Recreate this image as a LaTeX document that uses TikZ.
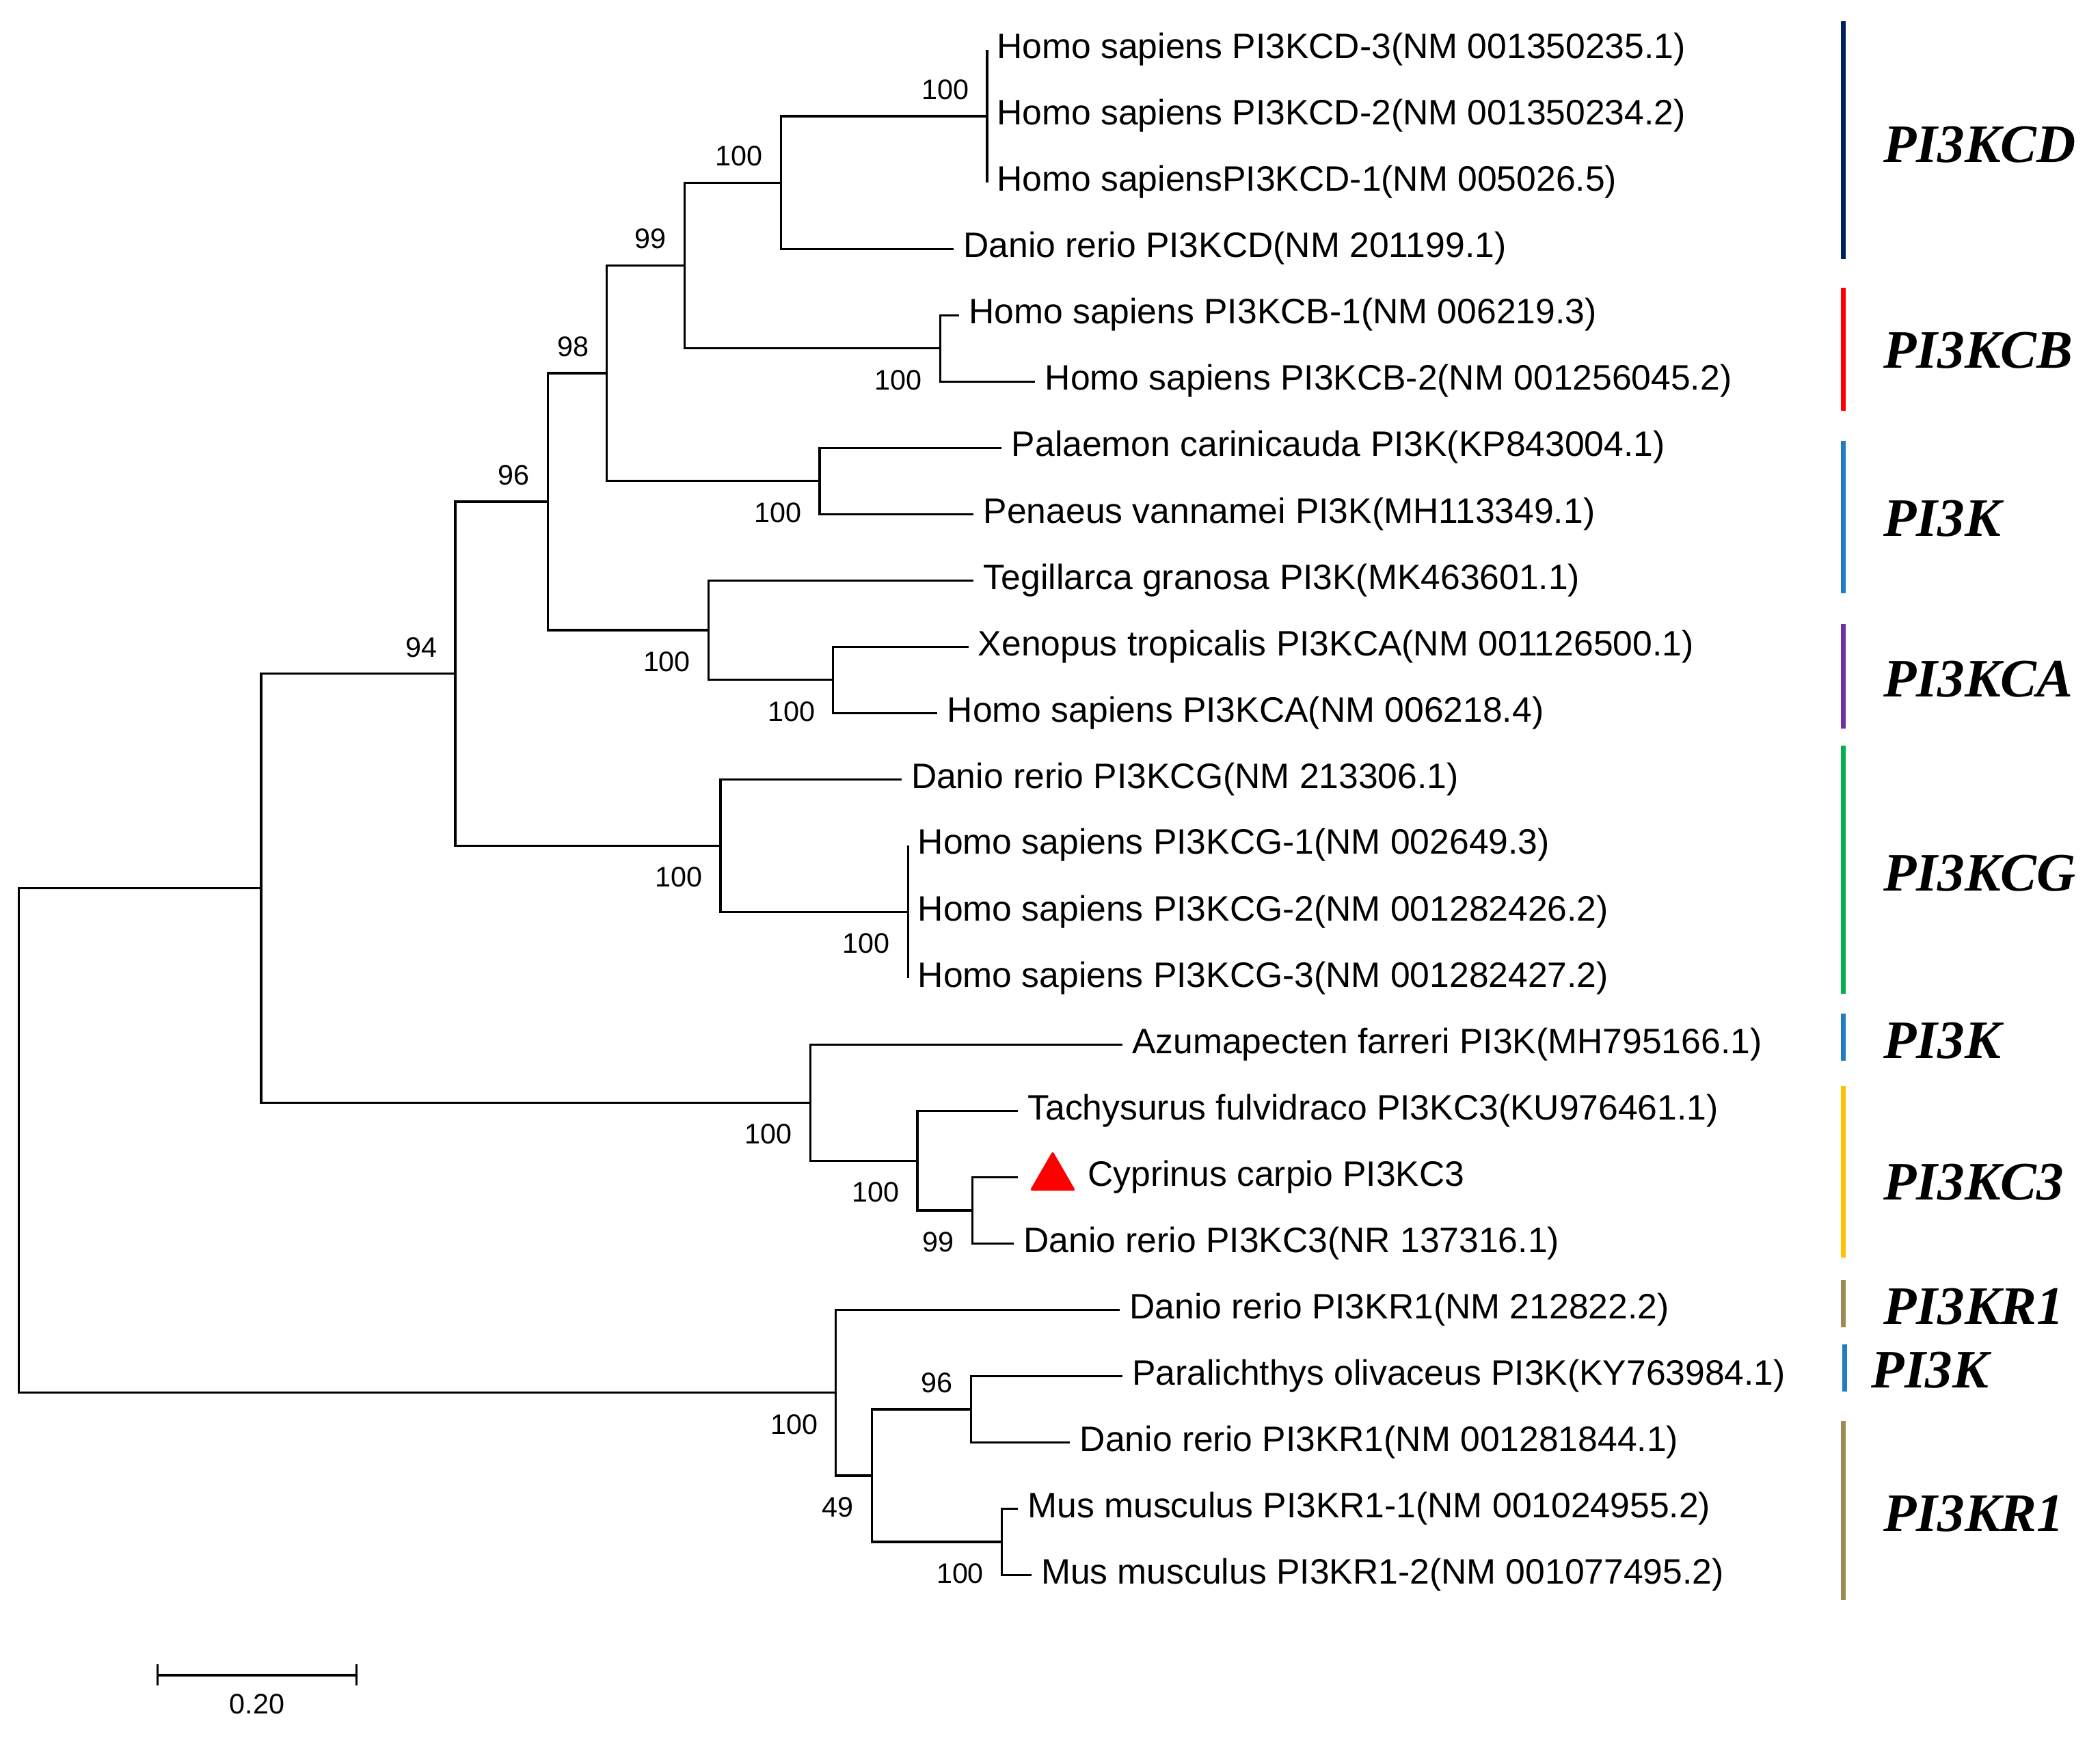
\documentclass[tikz,border=0pt]{standalone}
\usepackage{fontspec}
\setmainfont{Liberation Sans}
\newfontfamily\cladefont{Liberation Serif}
\usepackage{tikz}
\usetikzlibrary{positioning, arrows.meta, shapes.geometric}

\definecolor{pinavy}{RGB}{0,32,96}
\definecolor{pired}{RGB}{255,0,0}
\definecolor{piblue}{RGB}{30,126,193}
\definecolor{pipurple}{RGB}{112,48,160}
\definecolor{pigreen}{RGB}{0,176,80}
\definecolor{pigold}{RGB}{255,192,0}
\definecolor{piolive}{RGB}{156,139,82}

\begin{document}
\begin{tikzpicture}[
        x=0.02cm, y=-0.02cm,
        branch/.style={line width=0.95pt},
        leaf/.style={anchor=west, inner xsep=4pt, inner ysep=0pt, text height=10.8pt, text depth=3.4pt, font=\fontsize{15}{15}\selectfont},
        bootup/.style={anchor=south east, inner sep=0pt, xshift=-7.5pt, yshift=6.8pt, font=\fontsize{12}{12}\selectfont},
        bootdn/.style={anchor=north east, inner sep=0pt, xshift=-7.5pt, yshift=-9pt, font=\fontsize{12}{12}\selectfont},
        clade/.style={anchor=west, inner sep=0pt, text height=15.2pt, text depth=0pt, font=\cladefont\bfseries\itshape\fontsize{23}{23}\selectfont},
        cladebar/.style={line width=2pt, #1},
        ownseq/.style={regular polygon, regular polygon sides=3, fill=red, inner sep=0pt, minimum size=22.5pt, rounded corners=1pt}
    ]
    \path[fill=white] (0,0) rectangle (1568,1306);

    \node[leaf] (hCDiii) at (737,37.3) {Homo sapiens PI3KCD-3(NM 001350235.1)};
    \node[leaf] (hCDii) at (737,86.8) {Homo sapiens PI3KCD-2(NM 001350234.2)};
    \node[leaf] (hCDi) at (737,136.3) {Homo sapiensPI3KCD-1(NM 005026.5)};
    \node[leaf] (drCD) at (712,185.9) {Danio rerio PI3KCD(NM 201199.1)};
    \node[leaf] (hCBi) at (716,235.4) {Homo sapiens PI3KCB-1(NM 006219.3)};
    \node[leaf] (hCBii) at (773,284.9) {Homo sapiens PI3KCB-2(NM 001256045.2)};
    \node[leaf] (pcK) at (748,334.4) {Palaemon carinicauda PI3K(KP843004.1)};
    \node[leaf] (pvK) at (727,384.0) {Penaeus vannamei PI3K(MH113349.1)};
    \node[leaf] (tgK) at (727,433.5) {Tegillarca granosa PI3K(MK463601.1)};
    \node[leaf] (xtCA) at (723,483.0) {Xenopus tropicalis PI3KCA(NM 001126500.1)};
    \node[leaf] (hCA) at (700,532.5) {Homo sapiens PI3KCA(NM 006218.4)};
    \node[leaf] (drCG) at (673,582.0) {Danio rerio PI3KCG(NM 213306.1)};
    \node[leaf] (hCGi) at (678,631.5) {Homo sapiens PI3KCG-1(NM 002649.3)};
    \node[leaf] (hCGii) at (678,681.1) {Homo sapiens PI3KCG-2(NM 001282426.2)};
    \node[leaf] (hCGiii) at (678,730.6) {Homo sapiens PI3KCG-3(NM 001282427.2)};
    \node[leaf] (afK) at (838,780.1) {Azumapecten farreri PI3K(MH795166.1)};
    \node[leaf] (tfC3) at (760,829.6) {Tachysurus fulvidraco PI3KC3(KU976461.1)};
    \coordinate (ccTip) at (760,879.1);
    \node[ownseq] (ccMark) at (786,879.3) {};
    \node[leaf, right=4pt of ccMark] (ccC3) {Cyprinus carpio PI3KC3};
    \node[leaf] (drC3) at (757,928.7) {Danio rerio PI3KC3(NR 137316.1)};
    \node[leaf] (drRi) at (836,978.2) {Danio rerio PI3KR1(NM 212822.2)};
    \node[leaf] (poK) at (838,1027.7) {Paralichthys olivaceus PI3K(KY763984.1)};
    \node[leaf] (drRii) at (799,1077.2) {Danio rerio PI3KR1(NM 001281844.1)};
    \node[leaf] (mmRi) at (760,1126.7) {Mus musculus PI3KR1-1(NM 001024955.2)};
    \node[leaf] (mmRii) at (770,1176.3) {Mus musculus PI3KR1-2(NM 001077495.2)};

    \coordinate (nCDh) at (737,86.8);
    \coordinate (nCD) at (583,136.35);
    \coordinate (nCB) at (702,260.15);
    \coordinate (nCDB) at (511,198.25);
    \coordinate (nCru) at (612,359.2);
    \coordinate (nVa) at (453,278.7);
    \coordinate (nCA) at (622,507.75);
    \coordinate (nCAt) at (529,470.6);
    \coordinate (nVb) at (409,374.65);
    \coordinate (nCGh) at (678,681.05);
    \coordinate (nCG) at (538,631.5);
    \coordinate (nVc) at (340,503.1);
    \coordinate (nC3a) at (726,903.9);
    \coordinate (nC3b) at (685,866.75);
    \coordinate (nC3) at (605,823.4);
    \coordinate (nCat) at (195,663.25);
    \coordinate (nMus) at (748,1151.5);
    \coordinate (nRa) at (725,1052.45);
    \coordinate (nRb) at (651,1102.0);
    \coordinate (nR1) at (624,1040.1);
    \coordinate (root) at (14,851.7);

    \draw[branch] (nCDh) |- (hCDiii.west) (nCDh) |- (hCDii.west) (nCDh) |- (hCDi.west);
    \draw[branch] (nCD) |- (nCDh) (nCD) |- (drCD.west);
    \draw[branch] (nCB) |- (hCBi.west) (nCB) |- (hCBii.west);
    \draw[branch] (nCDB) |- (nCD) (nCDB) |- (nCB);
    \draw[branch] (nCru) |- (pcK.west) (nCru) |- (pvK.west);
    \draw[branch] (nVa) |- (nCDB) (nVa) |- (nCru);
    \draw[branch] (nCA) |- (xtCA.west) (nCA) |- (hCA.west);
    \draw[branch] (nCAt) |- (tgK.west) (nCAt) |- (nCA);
    \draw[branch] (nVb) |- (nVa) (nVb) |- (nCAt);
    \draw[branch] (nCGh) |- (hCGi.west) (nCGh) |- (hCGii.west) (nCGh) |- (hCGiii.west);
    \draw[branch] (nCG) |- (drCG.west) (nCG) |- (nCGh);
    \draw[branch] (nVc) |- (nVb) (nVc) |- (nCG);
    \draw[branch] (nC3a) |- (ccTip) (nC3a) |- (drC3.west);
    \draw[branch] (nC3b) |- (tfC3.west) (nC3b) |- (nC3a);
    \draw[branch] (nC3) |- (afK.west) (nC3) |- (nC3b);
    \draw[branch] (nCat) |- (nVc) (nCat) |- (nC3);
    \draw[branch] (nMus) |- (mmRi.west) (nMus) |- (mmRii.west);
    \draw[branch] (nRa) |- (poK.west) (nRa) |- (drRii.west);
    \draw[branch] (nRb) |- (nRa) (nRb) |- (nMus);
    \draw[branch] (nR1) |- (drRi.west) (nR1) |- (nRb);
    \draw[branch] (root) |- (nCat) (root) |- (nR1);

    \node[bootup] (bCDh) at (nCDh) {100};
    \node[bootup] (bCD) at (nCD) {100};
    \node[bootdn] (bCB) at (nCB) {100};
    \node[bootup] (bCDB) at (nCDB) {99};
    \node[bootdn] (bCru) at (nCru) {100};
    \node[bootup] (bVa) at (nVa) {98};
    \node[bootdn] (bCA) at (nCA) {100};
    \node[bootdn] (bCAt) at (nCAt) {100};
    \node[bootup] (bVb) at (nVb) {96};
    \node[bootdn] (bCGh) at (nCGh) {100};
    \node[bootdn] (bCG) at (nCG) {100};
    \node[bootup] (bVc) at (nVc) {94};
    \node[bootdn] (bC3a) at (nC3a) {99};
    \node[bootdn] (bC3b) at (nC3b) {100};
    \node[bootdn] (bC3) at (nC3) {100};
    \node[bootdn] (bMus) at (nMus) {100};
    \node[bootup] (bRa) at (nRa) {96};
    \node[bootdn] (bRb) at (nRb) {49};
    \node[bootdn] (bR1) at (nR1) {100};

    \coordinate (sbL) at (117,1251);
    \coordinate (sbR) at (267,1251);
    \draw[branch, {Bar[width=9pt]}-{Bar[width=9pt]}] (sbL) -- (sbR)
        node[midway, below=7.5pt, inner sep=0pt, font=\fontsize{12}{12}\selectfont] (sbLab) {0.20};

    \draw[cladebar=pinavy] (1376.5,15.6) -- (1376.5,193.6);
    \node[clade] (gCD) at (1406,108) {PI3KCD};
    \draw[cladebar=pired] (1376.5,215) -- (1376.5,307);
    \node[clade] (gCB) at (1406,261.5) {PI3KCB};
    \draw[cladebar=piblue] (1376.5,329) -- (1376.5,443);
    \node[clade] (gKa) at (1406,387) {PI3K};
    \draw[cladebar=pipurple] (1376.5,466) -- (1376.5,544);
    \node[clade] (gCA) at (1406,507) {PI3KCA};
    \draw[cladebar=pigreen] (1376.5,557) -- (1376.5,742);
    \node[clade] (gCG) at (1406,652) {PI3KCG};
    \draw[cladebar=piblue] (1376.5,757) -- (1376.5,792);
    \node[clade] (gKb) at (1406,777) {PI3K};
    \draw[cladebar=pigold] (1376.5,811) -- (1376.5,939);
    \node[clade] (gC3) at (1406,882.5) {PI3KC3};
    \draw[cladebar=piolive] (1376.5,956) -- (1376.5,991);
    \node[clade] (gRa) at (1406,975.5) {PI3KR1};
    \draw[cladebar=piblue] (1377.5,1004) -- (1377.5,1039);
    \node[clade] (gKc) at (1397,1023) {PI3K};
    \draw[cladebar=piolive] (1376.5,1061) -- (1376.5,1195);
    \node[clade] (gRb) at (1406,1130) {PI3KR1};
\end{tikzpicture}
\end{document}
